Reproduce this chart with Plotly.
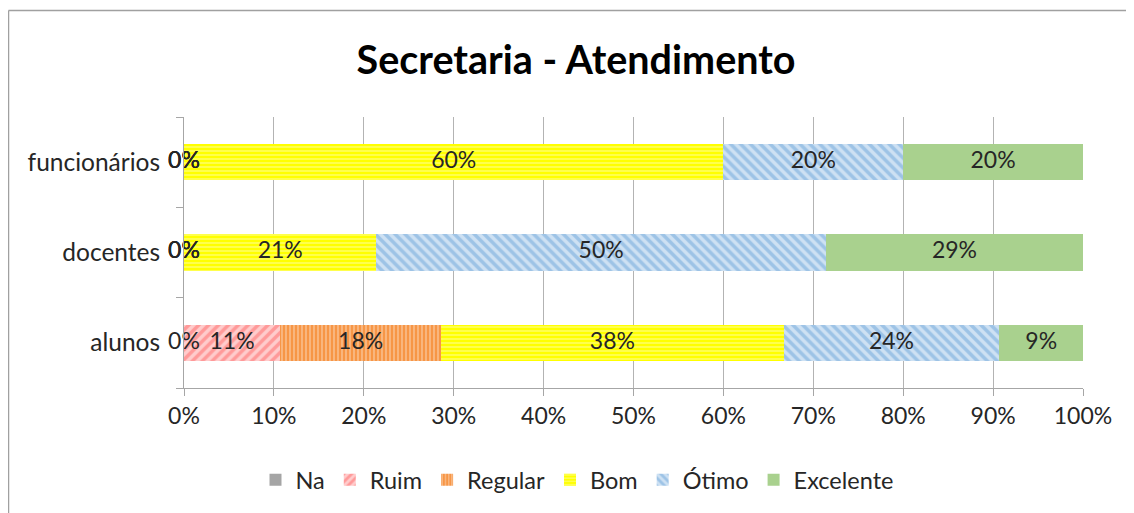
import plotly.graph_objects as go

categories = ["alunos", "docentes", "funcionários"]
series_names = ["Na", "Ruim", "Regular", "Bom", "Ótimo", "Excelente"]
na = [0.0, 0.0, 0.0]
ruim = [10.7, 0.0, 0.0]
regular = [17.9, 0.0, 0.0]
bom = [38.1, 21.4, 60.0]
otimo = [24.0, 50.0, 20.0]
excelente = [9.3, 28.6, 20.0]
x_ticks = [0, 10, 20, 30, 40, 50, 60, 70, 80, 90, 100]

values = [na, ruim, regular, bom, otimo, excelente]
colors = ["#a5a5a5", "#ff9999", "#f79646", "#ffff00", "#9dc3e6", "#a9d18e"]
patterns = [
    dict(shape=""),
    dict(shape="/", fgcolor="#ffffff", fillmode="overlay", size=7, solidity=0.5),
    dict(shape="|", fgcolor="#ffffff", fillmode="overlay", size=4, solidity=0.3),
    dict(shape="-", fgcolor="#ffffff", fillmode="overlay", size=4, solidity=0.3),
    dict(shape="\\", fgcolor="#ffffff", fillmode="overlay", size=7, solidity=0.5),
    dict(shape=""),
]

FONT = "Lato, 'Open Sans', sans-serif"
fig = go.Figure()
for name, vals, col, pat in zip(series_names, values, colors, patterns):
    fig.add_trace(go.Bar(
        y=categories, x=vals, name=name, orientation="h",
        marker=dict(color=col, line=dict(width=0), pattern=pat),
        width=0.4, hoverinfo="skip",
    ))

# data labels
lx, ly, lt = [], [], []
for i, cat in enumerate(categories):
    cum = 0.0
    for vals in values:
        v = vals[i]
        lx.append(cum + v / 2)
        ly.append(cat)
        lt.append(f"{round(v):.0f}%")
        cum += v
fig.add_trace(go.Scatter(
    x=lx, y=ly, text=lt, mode="text", showlegend=False,
    textfont=dict(family=FONT, size=23, color="#262626"), hoverinfo="skip",
    cliponaxis=False,
))

OFF = 8  # page body margin
W, H = 1134 - OFF, 513 - OFF
ml, mr, mt, mb = 184 - OFF, 51, 117 - OFF, 125
pw, ph = W - ml - mr, H - mt - mb
def px_to_paper_x(px):
    return (px - OFF - ml) / pw
def px_to_paper_y(py):
    return (H - mb - (py - OFF)) / ph

fig.update_layout(
    width=W, height=H, barmode="stack",
    margin=dict(l=ml, r=mr, t=mt, b=mb, autoexpand=False),
    paper_bgcolor="white", plot_bgcolor="white",
    font=dict(family=FONT, size=22, color="#262626"),
    title=dict(text="<b>Secretaria - Atendimento</b>", x=(576 - OFF) / W, xanchor="center",
               y=1 - (60 - OFF) / H, yanchor="middle", yref="container",
               font=dict(family=FONT, size=39.5, color="#000000")),
    xaxis=dict(range=[0, 100], tickvals=x_ticks, ticktext=[f"{t}%" for t in x_ticks],
               showgrid=True, gridcolor="#b3b3b3", gridwidth=1,
               showline=True, linecolor="#a6a6a6", linewidth=1,
               ticks="outside", ticklen=7, tickcolor="#a6a6a6",
               zeroline=False, fixedrange=True,
               tickfont=dict(family=FONT, size=23, color="#262626")),
    yaxis=dict(categoryorder="array", categoryarray=categories,
               showgrid=False, showline=True, linecolor="#a6a6a6", linewidth=1,
               ticks="outside", ticklen=7, tickcolor="#a6a6a6", tickson="boundaries",
               tickfont=dict(family=FONT, size=24.5, color="#262626"),
               ticklabelstandoff=18),
    legend=dict(orientation="h", x=px_to_paper_x(577), xanchor="center",
                y=px_to_paper_y(480), yanchor="middle",
                font=dict(family=FONT, size=23.5, color="#262626"),
                itemwidth=30, tracegroupgap=0, traceorder="normal"),
    shapes=[
        dict(type="line", xref="paper", yref="paper",
             x0=px_to_paper_x(8.5), x1=px_to_paper_x(1140), y0=px_to_paper_y(10.5), y1=px_to_paper_y(10.5),
             line=dict(color="#a0a0a0", width=1.5)),
        dict(type="line", xref="paper", yref="paper",
             x0=px_to_paper_x(8.5), x1=px_to_paper_x(8.5), y0=px_to_paper_y(10.5), y1=px_to_paper_y(520),
             line=dict(color="#a0a0a0", width=1.5)),
    ],
)

fig.write_html("out.html")
